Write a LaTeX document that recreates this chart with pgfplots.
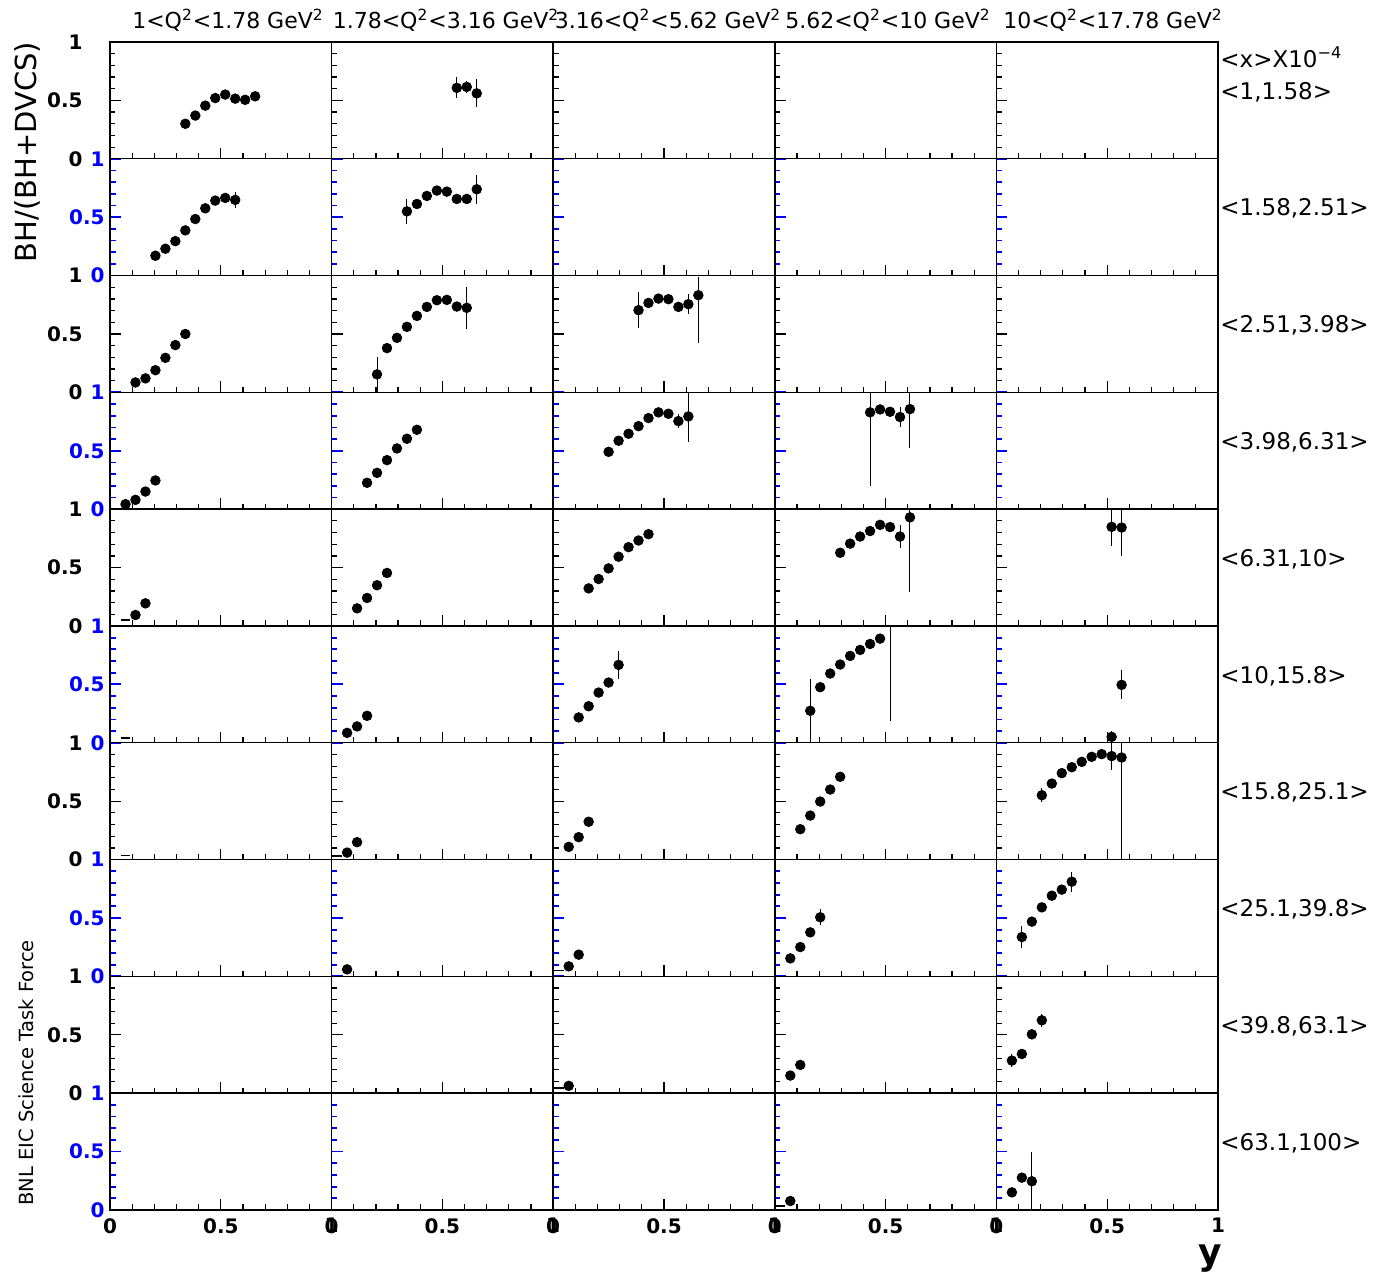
\documentclass[border=0pt]{standalone}
\usepackage{fontspec}
\setmainfont{DejaVu Sans}
\usepackage{pgfplots}
\pgfplotsset{compat=1.18}
\pgfplotsset{
  frame/.style={width=110.8pt,height=58.4pt,scale only axis,anchor=south west,
    xmin=0,xmax=1,ymin=0,ymax=1,
    xtick={0,0.5,1},ytick={0,0.5,1},
    minor xtick={0.1,0.2,0.3,0.4,0.6,0.7,0.8,0.9},
    minor ytick={0.1,0.2,0.3,0.4,0.6,0.7,0.8,0.9},
    tick pos=left, tick align=inside,
    major tick length=5.5pt, minor tick length=2.75pt,
    axis line style={line width=0.7pt,black},
    every tick/.style={black,line width=0.6pt},
    xticklabels={,,}, yticklabels={,,},
    every tick label/.append style={font=\fontsize{10}{10}\selectfont\bfseries,inner sep=0pt},
    yticklabel style={anchor=east},
    xticklabel style={anchor=north,yshift=-4pt},
  },
  oddrow/.style={yticklabel style={black,xshift=-13.5pt}},
  evenrow/.style={yticklabel style={blue,xshift=-2.5pt},
    every major y tick/.append style={blue,line width=0.9pt},
    every minor y tick/.append style={blue,line width=0.9pt}},
  rowstyle/.code={\ifodd#1\relax\pgfkeysalso{/pgfplots/oddrow}\else\pgfkeysalso{/pgfplots/evenrow}\fi
    \ifnum#1=10\relax\pgfkeysalso{/pgfplots/xticklabels={0,0.5,1}}\fi},
  colstyle/.code={\ifnum#1=1\relax\pgfkeysalso{/pgfplots/yticklabels={0,0.5,1}}\fi},
  dat/.style={width=110.8pt,height=58.4pt,scale only axis,anchor=south west,
    xmin=0,xmax=1,ymin=0,ymax=1,hide axis,clip=true},
  pts/.style={only marks,mark=*,mark size=2.4pt,black,mark options={fill=black,draw=black},
    error bars/.cd,y dir=both,y explicit,error mark=none,
    error bar style={line width=0.5pt,black}},
  dash/.style={only marks,mark=-,mark size=2.45pt,black,mark options={line width=0.8pt}},
}
\begin{document}
\begin{tikzpicture}
\useasboundingbox (0,0) rectangle (686.5pt,637.5pt);
\foreach \c in {1,...,5}{\foreach \r in {1,...,10}{
  \coordinate (p\c x\r) at ({(110+221.6*(\c-1))*0.5pt},{(1233-116.8*\r)*0.5pt});
}}
\foreach \c in {1,...,5}{\foreach \r in {1,...,10}{
  \begin{axis}[frame,at={(p\c x\r)},rowstyle=\r,colstyle=\c]
  \end{axis}
}}
% ---- data ----
\begin{axis}[dat,at={(p1x1)}]
\addplot[pts] coordinates {(0.34,0.30) (0.385,0.37) (0.43,0.455) (0.475,0.52) (0.52,0.55) (0.565,0.515) (0.61,0.505) (0.655,0.535) +- (0,0.03)};
\end{axis}
\begin{axis}[dat,at={(p2x1)}]
\addplot[pts] coordinates {(0.565,0.607) +- (0,0.09) (0.61,0.615) +- (0,0.05) (0.655,0.56) +- (0,0.12)};
\end{axis}
\begin{axis}[dat,at={(p1x2)}]
\addplot[pts] coordinates {(0.205,0.17) (0.25,0.23) (0.295,0.295) (0.34,0.387) (0.385,0.484) (0.43,0.576) (0.475,0.642) (0.52,0.665) (0.565,0.648) +- (0,0.07)};
\end{axis}
\begin{axis}[dat,at={(p2x2)}]
\addplot[pts] coordinates {(0.34,0.55) +- (0,0.11) (0.385,0.613) (0.43,0.682) (0.475,0.728) (0.52,0.719) (0.565,0.656) (0.61,0.656) (0.655,0.739) +- (0,0.125)};
\end{axis}
\begin{axis}[dat,at={(p1x3)}]
\addplot[pts] coordinates {(0.115,0.085) (0.16,0.12) (0.205,0.19) (0.25,0.296) (0.295,0.405) (0.34,0.50)};
\end{axis}
\begin{axis}[dat,at={(p2x3)}]
\addplot[pts] coordinates {(0.205,0.154) += (0,0.148) -= (0,0.154) (0.25,0.379) (0.295,0.467) (0.34,0.561) (0.385,0.655) (0.43,0.732) (0.475,0.789) (0.52,0.792) (0.565,0.735) (0.61,0.724) +- (0,0.18)};
\end{axis}
\begin{axis}[dat,at={(p3x3)}]
\addplot[pts] coordinates {(0.385,0.704) +- (0,0.155) (0.43,0.766) (0.475,0.803) (0.52,0.798) (0.565,0.732) (0.61,0.755) +- (0,0.085) (0.655,0.832) += (0,0.16) -= (0,0.41)};
\end{axis}
\begin{axis}[dat,at={(p1x4)}]
\addplot[pts] coordinates {(0.07,0.043) (0.115,0.08) (0.16,0.151) (0.205,0.246)};
\end{axis}
\begin{axis}[dat,at={(p2x4)}]
\addplot[pts] coordinates {(0.16,0.226) (0.205,0.311) (0.25,0.42) (0.295,0.52) (0.34,0.603) (0.385,0.68)};
\end{axis}
\begin{axis}[dat,at={(p3x4)}]
\addplot[pts] coordinates {(0.25,0.491) (0.295,0.586) (0.34,0.646) (0.385,0.711) (0.43,0.78) (0.475,0.829) (0.52,0.817) (0.565,0.754) +- (0,0.06) (0.61,0.794) += (0,0.2) -= (0,0.22)};
\end{axis}
\begin{axis}[dat,at={(p4x4)}]
\addplot[pts] coordinates {(0.43,0.829) += (0,0.17) -= (0,0.63) (0.475,0.854) (0.52,0.834) (0.565,0.789) +- (0,0.085) (0.61,0.857) += (0,0.14) -= (0,0.33)};
\end{axis}
\begin{axis}[dat,at={(p1x5)}]
\addplot[pts] coordinates {(0.115,0.094) (0.16,0.194)};
\addplot[dash] coordinates {(0.07,0.05)};
\end{axis}
\begin{axis}[dat,at={(p2x5)}]
\addplot[pts] coordinates {(0.115,0.151) (0.16,0.24) (0.205,0.349) (0.25,0.454)};
\end{axis}
\begin{axis}[dat,at={(p3x5)}]
\addplot[pts] coordinates {(0.16,0.322) (0.205,0.402) (0.25,0.493) (0.295,0.593) (0.34,0.675) (0.385,0.732) (0.43,0.786)};
\end{axis}
\begin{axis}[dat,at={(p4x5)}]
\addplot[pts] coordinates {(0.295,0.627) (0.34,0.705) (0.385,0.766) (0.43,0.813) (0.475,0.866) (0.52,0.847) (0.565,0.766) +- (0,0.095) (0.61,0.93) += (0,0.07) -= (0,0.64)};
\end{axis}
\begin{axis}[dat,at={(p5x5)}]
\addplot[pts] coordinates {(0.52,0.849) += (0,0.15) -= (0,0.163) (0.565,0.843) += (0,0.157) -= (0,0.243)};
\end{axis}
\begin{axis}[dat,at={(p1x6)}]
\addplot[dash] coordinates {(0.07,0.04)};
\end{axis}
\begin{axis}[dat,at={(p2x6)}]
\addplot[pts] coordinates {(0.07,0.085) (0.115,0.14) (0.16,0.231)};
\end{axis}
\begin{axis}[dat,at={(p3x6)}]
\addplot[pts] coordinates {(0.115,0.217) (0.16,0.313) (0.205,0.43) (0.25,0.516) (0.295,0.667) +- (0,0.12)};
\end{axis}
\begin{axis}[dat,at={(p4x6)}]
\addplot[pts] coordinates {(0.16,0.274) += (0,0.275) -= (0,0.274) (0.205,0.476) (0.25,0.593) (0.295,0.67) (0.34,0.744) (0.385,0.795) (0.43,0.846) (0.475,0.892) +- (0,0.03)};
\addplot[black,line width=0.5pt,mark=none] coordinates {(0.52,0.19) (0.52,1)};
\end{axis}
\begin{axis}[dat,at={(p5x6)}]
\addplot[pts] coordinates {(0.52,0.051) += (0,0.05) -= (0,0.051) (0.565,0.496) +- (0,0.125)};
\end{axis}
\begin{axis}[dat,at={(p1x7)}]
\addplot[dash] coordinates {(0.07,0.035)};
\end{axis}
\begin{axis}[dat,at={(p2x7)}]
\addplot[pts] coordinates {(0.07,0.06) (0.115,0.149)};
\addplot[dash] coordinates {(0.025,0.03)};
\end{axis}
\begin{axis}[dat,at={(p3x7)}]
\addplot[pts] coordinates {(0.07,0.109) (0.115,0.192) (0.16,0.324)};
\end{axis}
\begin{axis}[dat,at={(p4x7)}]
\addplot[pts] coordinates {(0.115,0.26) (0.16,0.377) (0.205,0.497) (0.25,0.6) (0.295,0.709)};
\end{axis}
\begin{axis}[dat,at={(p5x7)}]
\addplot[pts] coordinates {(0.205,0.551) +- (0,0.06) (0.25,0.651) (0.295,0.74) (0.34,0.791) (0.385,0.837) (0.43,0.88) (0.475,0.903) (0.52,0.886) += (0,0.114) -= (0,0.115) (0.565,0.874) += (0,0.126) -= (0,0.874)};
\end{axis}
\begin{axis}[dat,at={(p2x8)}]
\addplot[pts] coordinates {(0.07,0.06)};
\end{axis}
\begin{axis}[dat,at={(p3x8)}]
\addplot[pts] coordinates {(0.07,0.086) (0.115,0.186)};
\addplot[dash] coordinates {(0.025,0.05)};
\end{axis}
\begin{axis}[dat,at={(p4x8)}]
\addplot[pts] coordinates {(0.07,0.154) (0.115,0.251) (0.16,0.377) (0.205,0.506) +- (0,0.07)};
\end{axis}
\begin{axis}[dat,at={(p5x8)}]
\addplot[pts] coordinates {(0.115,0.337) +- (0,0.097) (0.16,0.469) (0.205,0.591) (0.25,0.691) (0.295,0.743) (0.34,0.811) +- (0,0.085)};
\end{axis}
\begin{axis}[dat,at={(p3x9)}]
\addplot[pts] coordinates {(0.07,0.063)};
\addplot[dash] coordinates {(0.025,0.045)};
\end{axis}
\begin{axis}[dat,at={(p4x9)}]
\addplot[pts] coordinates {(0.07,0.151) (0.115,0.242)};
\end{axis}
\begin{axis}[dat,at={(p5x9)}]
\addplot[pts] coordinates {(0.07,0.279) +- (0,0.057) (0.115,0.336) (0.16,0.504) (0.205,0.624) +- (0,0.054)};
\end{axis}
\begin{axis}[dat,at={(p4x10)}]
\addplot[pts] coordinates {(0.07,0.077)};
\addplot[dash] coordinates {(0.025,0.034)};
\end{axis}
\begin{axis}[dat,at={(p5x10)}]
\addplot[pts] coordinates {(0.07,0.151) (0.115,0.277) (0.16,0.246) +- (0,0.25)};
\end{axis}
% ---- texts ----
\begin{scope}[every node/.style={inner sep=0pt,font=\fontsize{11}{11}\selectfont}]
\node at (114pt,627.5pt) {1<Q\textsuperscript{2}<1.78 GeV\textsuperscript{2}};
\node at (223pt,627.5pt) {1.78<Q\textsuperscript{2}<3.16 GeV\textsuperscript{2}};
\node at (334pt,627.5pt) {3.16<Q\textsuperscript{2}<5.62 GeV\textsuperscript{2}};
\node at (444pt,627.5pt) {5.62<Q\textsuperscript{2}<10 GeV\textsuperscript{2}};
\node at (556.5pt,627.5pt) {10<Q\textsuperscript{2}<17.78 GeV\textsuperscript{2}};
\end{scope}
\begin{scope}[every node/.style={inner sep=0pt,anchor=west,font=\fontsize{11.5}{11.5}\selectfont}]
\node at (610pt,609pt) {<x>X10\textsuperscript{−4}};
\node at (610pt,591.5pt) {<1,1.58>};
\node at (610pt,533.1pt) {<1.58,2.51>};
\node at (610pt,474.7pt) {<2.51,3.98>};
\node at (610pt,416.3pt) {<3.98,6.31>};
\node at (610pt,357.9pt) {<6.31,10>};
\node at (610pt,299.5pt) {<10,15.8>};
\node at (610pt,241.1pt) {<15.8,25.1>};
\node at (610pt,182.7pt) {<25.1,39.8>};
\node at (610pt,124.3pt) {<39.8,63.1>};
\node at (610pt,65.9pt) {<63.1,100>};
\end{scope}
\node[rotate=90,inner sep=0pt,font=\fontsize{14.5}{14.5}\selectfont] at (13.75pt,561.5pt) {BH/(BH+DVCS)};
\node[rotate=90,inner sep=0pt,font=\fontsize{9.75}{9.75}\selectfont] at (13.25pt,101pt) {BNL EIC Science Task Force};
\node[anchor=base east,inner sep=0pt,font=\fontsize{18}{18}\selectfont\bfseries] at (611pt,5pt) {y};
\end{tikzpicture}
\end{document}
